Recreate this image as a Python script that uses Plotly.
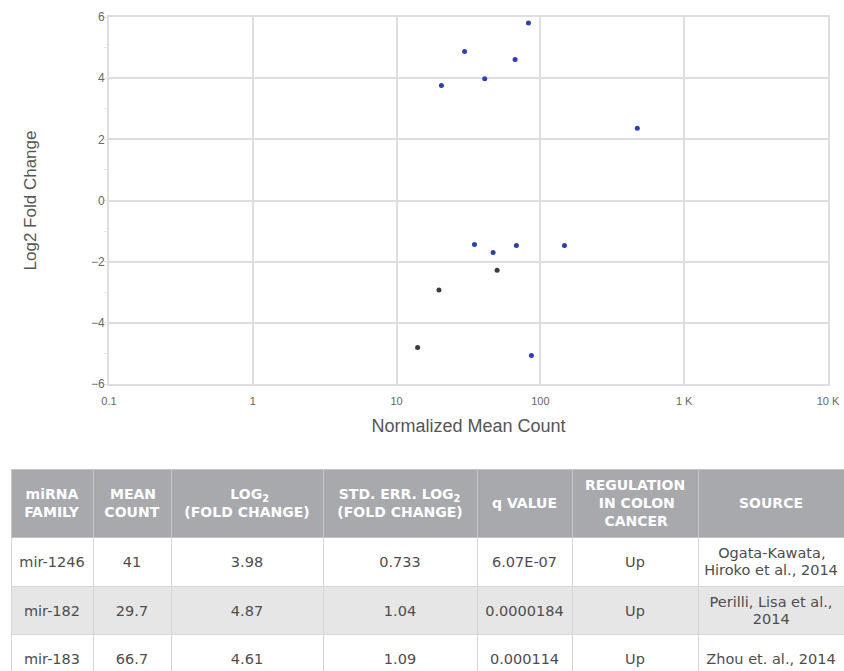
import re
import plotly.graph_objects as go

# ---- scatter data (Normalized mean count vs Log2 fold change) ----
blue_count = [82.6, 29.7, 66.7, 41, 20.5, 472, 34.8, 46.9, 68.1, 147, 86.6]
blue_log2fc = [5.80, 4.87, 4.61, 3.98, 3.76, 2.36, -1.44, -1.70, -1.47, -1.47, -5.07]
dark_count = [50.0, 19.7, 14.0, 34.7]
dark_log2fc = [-2.28, -2.93, -4.81, -6.18]

x_tickvals = [0.1, 1, 10, 100, 1000, 10000]
x_ticktext = ["0.1", "1", "10", "100", "1 K", "10 K"]
y_tickvals = [-6, -4, -2, 0, 2, 4, 6]

# ---- table data ----
header_lines = [["miRNA", "FAMILY"], ["MEAN", "COUNT"], ["LOG<sub>2</sub>", "(FOLD CHANGE)"],
                ["STD. ERR. LOG<sub>2</sub>", "(FOLD CHANGE)"], ["q VALUE"],
                ["REGULATION", "IN COLON", "CANCER"], ["SOURCE"]]
col_family = ["mir-1246", "mir-182", "mir-183"]
col_mean = ["41", "29.7", "66.7"]
col_log2 = ["3.98", "4.87", "4.61"]
col_stderr = ["0.733", "1.04", "1.09"]
col_q = ["6.07E-07", "0.0000184", "0.000114"]
col_reg = ["Up", "Up", "Up"]
col_source = [["Ogata-Kawata,", "Hiroko et al., 2014"], ["Perilli, Lisa et al.,", "2014"],
              ["Zhou et. al., 2014"]]
col_widths = [82, 78, 152, 154, 95, 126, 146]

# ---- text helpers (DejaVu Sans advance widths, em) ----
_W = {' ': .318, '\u00a0': .318, '(': .390, ')': .390, ',': .318, '-': .361, '.': .318,
      'A': .684, 'C': .698, 'D': .770, 'E': .632, 'F': .575, 'G': .775, 'H': .752, 'I': .295,
      'K': .656, 'L': .557, 'M': .863, 'N': .748, 'O': .787, 'P': .603, 'R': .695, 'S': .635,
      'T': .611, 'U': .732, 'V': .684, 'Y': .611, 'Z': .685,
      'a': .613, 'b': .635, 'c': .550, 'd': .635, 'e': .615, 'f': .352, 'g': .635, 'h': .634,
      'i': .278, 'j': .278, 'k': .579, 'l': .278, 'm': .974, 'n': .634, 'o': .612, 'p': .635,
      'q': .635, 'r': .411, 's': .521, 't': .392, 'u': .634, 'v': .592, 'w': .818, 'x': .592,
      'y': .592, 'z': .525}


def text_width(s, size, k=1.0):
    w = 0.0
    for part in re.split(r"(<sub>.*?</sub>)", s):
        if part.startswith("<sub>"):
            w += 0.7 * sum(_W.get(c, .636) for c in part[5:-6])
        else:
            w += sum(_W.get(c, .636) for c in part)
    return w * size * k


def cell_html(lines, size, span=True, lead=None, pad_px=4, k=1.0):
    widths = [text_width(l, size, k) for l in lines]
    maxw = max(widths)
    out = []
    for l, w in zip(lines, widths):
        n = int(round((maxw - w) / 2 / (0.318 * pad_px)))
        pad = f'<span style="font-size:{pad_px}px">' + "&nbsp;" * n + "</span>" if n else ""
        body = f'<span style="font-size:{size}px">{l}</span>' if span else l
        out.append(pad + body)
    prefix = ""
    if lead is not None:
        prefix = (f'<span style="font-size:{lead}px">&nbsp;</span><br>' if lead else "&nbsp;<br>")
    return prefix + "<br>".join(out)


HFONT = 14
BFONT = 14.5
header_vals = []
for lines in header_lines:
    if len(lines) == 3:
        header_vals.append(cell_html(lines, HFONT, span=False, k=1.1))
    elif len(lines) == 2:
        header_vals.append(cell_html(lines, HFONT, span=False, lead=4.2, k=1.1))
    else:
        header_vals.append(cell_html(lines, HFONT, span=False, lead=0, k=1.1))


def body_cell(v):
    lines = v if isinstance(v, list) else [v]
    if len(lines) == 1:
        return cell_html(lines, BFONT, lead=5.6)
    return cell_html(lines, BFONT)


body_cols = [[body_cell(v) for v in col] for col in
             [col_family, col_mean, col_log2, col_stderr, col_q, col_reg, col_source]]

W, H = 844, 671
fig = go.Figure()
fig.add_trace(go.Scatter(x=blue_count, y=blue_log2fc, mode="markers",
                         marker=dict(color="#2b40ae", size=5), showlegend=False,
                         hoverinfo="x+y"))
fig.add_trace(go.Scatter(x=dark_count, y=dark_log2fc, mode="markers",
                         marker=dict(color="#3b3b45", size=5), showlegend=False,
                         hoverinfo="x+y"))

row_fill = ["#ffffff", "#e6e6e6", "#ffffff"]
fig.add_trace(go.Table(
    domain=dict(x=[11 / W, 1], y=[0, 1 - 469 / H]),
    columnwidth=col_widths,
    header=dict(values=header_vals, fill_color="#a7a9ac",
                line=dict(color="#c4c5c7", width=1),
                font=dict(family="DejaVu Sans", size=HFONT, color="white", weight="bold"),
                align="center", height=60),
    cells=dict(values=body_cols,
               fill_color=[row_fill] * 7,
               line=dict(color="#d6d6d6", width=1),
               font=dict(family="DejaVu Sans", size=12.8, color="#4d4d4d"),
               align="center", height=46),
))

grid = "#dedede"
fig.update_layout(
    width=W, height=H, margin=dict(l=0, r=0, t=0, b=0),
    paper_bgcolor="white", plot_bgcolor="white",
    xaxis=dict(type="log", domain=[109 / W, 828 / W], range=[-1, 4], automargin=False,
               tickvals=x_tickvals, ticktext=x_ticktext,
               tickfont=dict(family="Liberation Sans", size=11, color="#666666"),
               showgrid=True, gridcolor=grid, gridwidth=2,
               showline=True, mirror=True, linecolor=grid, linewidth=2,
               zeroline=False, ticks="outside", ticklen=6, tickcolor="rgba(0,0,0,0)",
               title=dict(text="Normalized Mean Count",
                          font=dict(family="Liberation Sans", size=18, color="#555555"),
                          standoff=13)),
    yaxis=dict(domain=[1 - 384 / H, 1 - 17 / H], range=[-6, 6], automargin=False,
               tickvals=y_tickvals,
               tickfont=dict(family="Liberation Sans", size=12, color="#666666"),
               showgrid=True, gridcolor=grid, gridwidth=2,
               showline=True, mirror=True, linecolor=grid, linewidth=2,
               zeroline=False, ticks="",
               minor=dict(dtick=1, ticks="outside", ticklen=3, tickcolor="#e4e4e4",
                          showgrid=False),
               title=dict(text="Log2 Fold Change",
                          font=dict(family="Liberation Sans", size=17, color="#555555"),
                          standoff=50)),
)
fig.write_html("out.html")
